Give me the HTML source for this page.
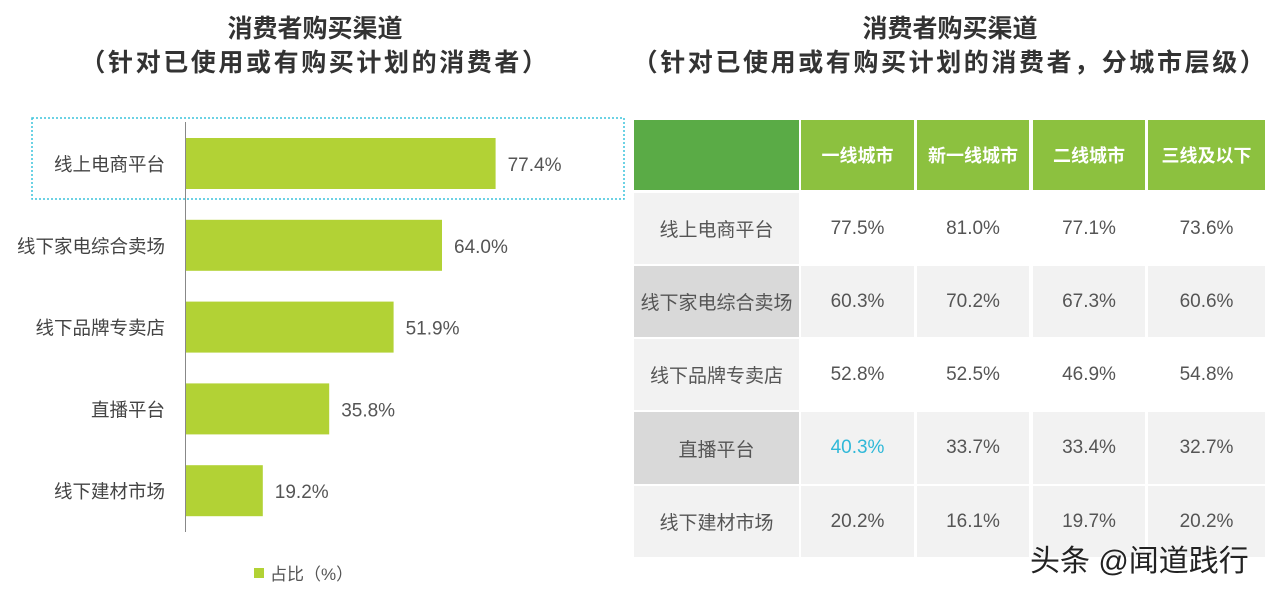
<!DOCTYPE html>
<html><head><meta charset="utf-8"><style>
body{margin:0;width:1280px;height:592px;background:#fff;font-family:"Liberation Sans","Noto Sans CJK SC",sans-serif;position:relative;overflow:hidden}
.t{position:absolute;font-weight:bold;font-size:25px;color:#333;text-align:center;line-height:34px}
.t span{letter-spacing:2.6px}
.c{position:absolute;display:flex;align-items:center;justify-content:center;font-size:19px;color:#555}
.h{color:#fff;font-weight:bold;font-size:18px}
</style></head><body>
<div class="t" style="left:0;width:630px;top:12px">消费者购买渠道<br><span>（针对已使用或有购买计划的消费者）</span></div>
<div class="t" style="left:630px;width:640px;top:12px">消费者购买渠道<br><span>（针对已使用或有购买计划的消费者，分城市层级）</span></div>
<svg id="chart" width="630" height="592" style="position:absolute;left:0;top:0"></svg>
<div id="table"></div>
<div style="position:absolute;left:1030px;top:536px;font-size:30px;color:#222;text-shadow:0 0 2px #fff">头条 @闻道践行</div>
<script>
const categories=["线上电商平台","线下家电综合卖场","线下品牌专卖店","直播平台","线下建材市场"];
const values=[77.4,64.0,51.9,35.8,19.2];
const cities=["一线城市","新一线城市","二线城市","三线及以下"];
const tier1=[77.5,60.3,52.8,40.3,20.2];
const newTier1=[81.0,70.2,52.5,33.7,16.1];
const tier2=[77.1,67.3,46.9,33.4,19.7];
const tier3=[73.6,60.6,54.8,32.7,20.2];
const NS="http://www.w3.org/2000/svg";
const svg=document.getElementById('chart');
const x=v=>186+v*4.0;
const y=i=>138+i*81.8;
function mk(t,a){const e=document.createElementNS(NS,t);for(const k in a)e.setAttribute(k,a[k]);svg.appendChild(e);return e;}
const box=mk('rect',{x:32,y:118,width:592,height:81,fill:'none',stroke:'#3cc4dc','stroke-width':1.5,'stroke-dasharray':'2,2'});


values.forEach((v,i)=>{
 const b=mk('rect',{x:x(0),y:y(i),width:x(v)-x(0),height:51,fill:'#b2d235'});
 
 
 const l=mk('text',{x:x(v)+12,y:y(i)+33,'font-size':19,fill:'#555'});l.textContent=v.toFixed(1)+'%';
 
 
 const c=mk('text',{x:165,y:y(i)+33,'font-size':18.5,fill:'#444','text-anchor':'end'});c.textContent=categories[i];
 
 
});
const ax=mk('line',{x1:185.5,y1:122,x2:185.5,y2:532,stroke:'#888','stroke-width':1});


const ls=mk('rect',{x:254,y:568,width:10,height:10,fill:'#b2d235'});


const lt=mk('text',{x:270,y:580,'font-size':17,fill:'#555'});lt.textContent='占比（%）';


const tb=document.getElementById('table');
const colX=[634,801,917,1033,1148],colW=[165,113,112,112,117];
const rowY=[193,266,339,412,486],rowH=[71,71,71,72,71];
function cell(x0,y0,w,h,bg,txt,cls,name){const d=document.createElement('div');d.className='c '+(cls||'');d.style.cssText=`left:${x0}px;top:${y0}px;width:${w}px;height:${h}px;background:${bg}`;d.textContent=txt;


tb.appendChild(d);return d;}
cell(634,120,165,70,'#5aab46','','h','header-corner');
cities.forEach((c,j)=>cell(colX[j+1],120,colW[j+1],70,'#8cc13f',c,'h','header-'+j));
const series=[tier1,newTier1,tier2,tier3];
const firstBg=['#f2f2f2','#d9d9d9','#f2f2f2','#d9d9d9','#f2f2f2'];
const dataBg=['#fff','#f2f2f2','#fff','#f2f2f2','#f2f2f2'];
categories.forEach((cat,i)=>{
 cell(634,rowY[i],165,rowH[i],firstBg[i],cat,'','row-label-'+i).style.fontSize='19px';
 series.forEach((s,j)=>{const d=cell(colX[j+1],rowY[i],colW[j+1],rowH[i],dataBg[i],s[i].toFixed(1)+'%','','cell-'+i+'-'+j);
  if(i===3&&j===0)d.style.color='#2fb8d8';});
});
</script>
</body></html>
